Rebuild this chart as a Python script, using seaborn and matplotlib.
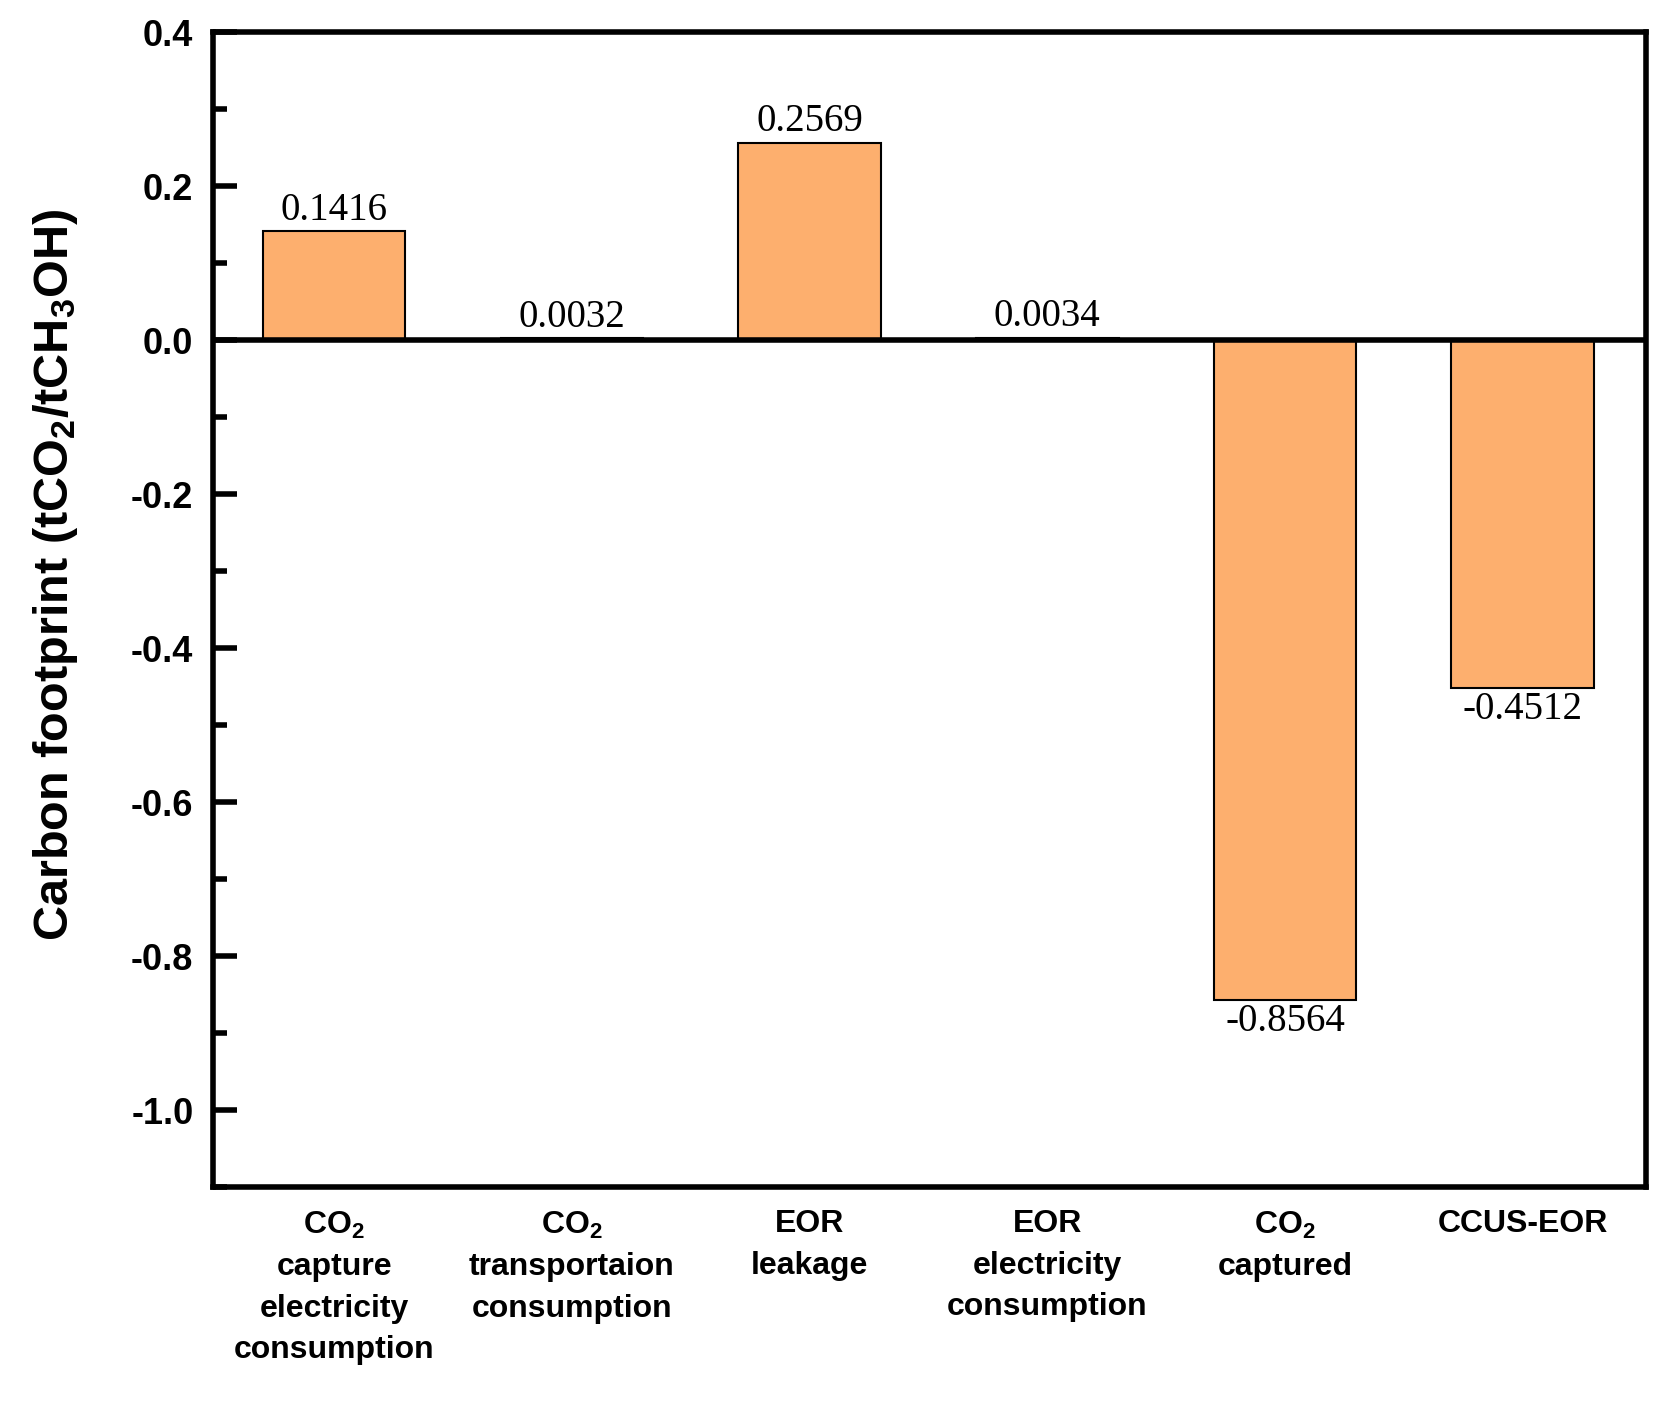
import numpy as np
import pandas as pd
import matplotlib
matplotlib.use('Agg')
import matplotlib.pyplot as plt
import seaborn as sns
from matplotlib.ticker import MultipleLocator

# data
categories = ['CO$_2$\ncapture\nelectricity\nconsumption',
              'CO$_2$\ntransportaion\nconsumption',
              'EOR\nleakage',
              'EOR\nelectricity\nconsumption',
              'CO$_2$\ncaptured',
              'CCUS-EOR']
values = [0.1416, 0.0032, 0.2569, 0.0034, -0.8564, -0.4512]
value_labels = ['0.1416', '0.0032', '0.2569', '0.0034', '-0.8564', '-0.4512']
yticks = [-1.0, -0.8, -0.6, -0.4, -0.2, 0.0, 0.2, 0.4]
ytick_labels = ['-1.0', '-0.8', '-0.6', '-0.4', '-0.2', '0.0', '0.2', '0.4']

df = pd.DataFrame({'cat': categories, 'val': values})

sns.set_theme(style='white')
plt.rcParams['font.family'] = ['Liberation Sans', 'DejaVu Sans']
plt.rcParams['axes.unicode_minus'] = False
plt.rcParams['mathtext.fontset'] = 'custom'
plt.rcParams['mathtext.rm'] = 'Liberation Sans:bold'
plt.rcParams['mathtext.bf'] = 'Liberation Sans:bold'
plt.rcParams['mathtext.default'] = 'rm'
plt.rcParams['text.color'] = 'black'
plt.rcParams['axes.labelcolor'] = 'black'
plt.rcParams['xtick.color'] = 'black'
plt.rcParams['ytick.color'] = 'black'

fig = plt.figure(figsize=(16.63, 14.10), dpi=100)
ax = fig.add_axes([0.128, 0.158, 0.862, 0.819])

sns.barplot(data=df, x='cat', y='val', color='#FDAF6E', saturation=1,
            width=0.6, edgecolor='black', linewidth=1.5, ax=ax)

ax.axhline(0, color='black', lw=4, zorder=5)

# value annotations
for i, (v, lab) in enumerate(zip(values, value_labels)):
    if v >= 0:
        ax.text(i, v + 0.003, lab, ha='center', va='bottom',
                family='Liberation Serif', fontsize=28, color='black')
    else:
        ax.text(i, v - 0.004, lab, ha='center', va='top',
                family='Liberation Serif', fontsize=28, color='black')

ax.set_xlim(-0.51, 5.52)
ax.set_ylim(-1.1, 0.4)
ax.set_yticks(yticks)
ax.set_yticklabels(ytick_labels)
ax.yaxis.set_minor_locator(MultipleLocator(0.1))

ax.tick_params(axis='y', which='major', direction='in', length=17, width=4,
               pad=14, labelsize=26, left=True)
ax.tick_params(axis='y', which='minor', direction='in', length=10, width=4, left=True)
ax.tick_params(axis='x', which='both', length=0, pad=16, labelsize=23)
for lab in ax.get_yticklabels() + ax.get_xticklabels():
    lab.set_fontweight('bold')
for lab in ax.get_xticklabels():
    lab.set_linespacing(1.5)

for sp in ax.spines.values():
    sp.set_linewidth(4)
    sp.set_color('black')
    sp.set_visible(True)

ax.set_xlabel('')
ax.set_ylabel('Carbon footprint (tCO$_2$/tCH$_3$OH)', fontsize=35,
              fontweight='bold')
ax.yaxis.set_label_coords(-0.093, 0.53)

fig.savefig('out.png', dpi=100, facecolor='white')
